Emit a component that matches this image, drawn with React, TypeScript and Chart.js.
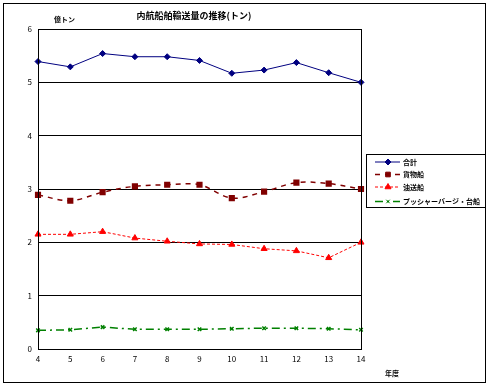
import React, { useEffect, useRef } from "react";
import { Chart, registerables } from "chart.js";
import { drawPoint } from "chart.js/helpers";

Chart.register(...registerables);

const categories = ["4", "5", "6", "7", "8", "9", "10", "11", "12", "13", "14"];
const totalValues = [5.39, 5.29, 5.54, 5.48, 5.48, 5.41, 5.17, 5.23, 5.37, 5.18, 5.0];
const cargoValues = [2.89, 2.78, 2.94, 3.05, 3.08, 3.08, 2.83, 2.95, 3.12, 3.1, 3.0];
const tankerValues = [2.15, 2.15, 2.2, 2.08, 2.02, 1.97, 1.96, 1.88, 1.84, 1.71, 2.0];
const pusherValues = [0.35, 0.36, 0.41, 0.37, 0.37, 0.37, 0.38, 0.39, 0.39, 0.38, 0.36];
const seriesNames = ["合計", "貨物船", "油送船", "プッシャーバージ・台船"];
const yTicks = [0, 1, 2, 3, 4, 5, 6];
const titleText = "内航船舶輸送量の推移(トン)";
const unitText = "億トン";
const xTitleText = "年度";

const FONT = "'Noto Sans CJK JP', 'DejaVu Sans', sans-serif";

const decorPlugin = {
  id: "decor",
  afterDraw(chart: any) {
    const ctx = chart.ctx;
    const ca = chart.chartArea;
    ctx.save();
    ctx.strokeStyle = "#000";
    ctx.lineWidth = 1;
    ctx.setLineDash([]);
    ctx.strokeRect(3.5, 3.5, 482, 379);
    ctx.strokeRect(Math.round(ca.left) + 0.5, Math.round(ca.top) + 0.5, Math.round(ca.right - ca.left), Math.round(ca.bottom - ca.top));
    ctx.fillStyle = "#000";
    ctx.textBaseline = "middle";
    ctx.font = `bold 9px ${FONT}`;
    ctx.textAlign = "center";
    ctx.fillText(titleText, 194, 16);
    ctx.font = `bold 7px ${FONT}`;
    ctx.textAlign = "left";
    ctx.fillText(unitText, 54, 19);
    ctx.fillText(xTitleText, 385, 373);
    const lx = 366, ly = 154, lw = 119, lh = 53;
    ctx.strokeRect(lx + 0.5, ly + 0.5, lw, lh);
    const rows = [162, 174.5, 187, 201.5];
    chart.data.datasets.forEach((ds: any, i: number) => {
      const y = rows[i];
      ctx.save();
      ctx.strokeStyle = ds.borderColor;
      ctx.lineWidth = ds.borderWidth;
      ctx.setLineDash(ds.borderDash || []);
      ctx.beginPath();
      ctx.moveTo(375, y);
      ctx.lineTo(400, y);
      ctx.stroke();
      ctx.setLineDash([]);
      ctx.fillStyle = ds.pointBackgroundColor;
      ctx.strokeStyle = ds.pointBorderColor;
      ctx.lineWidth = 1;
      drawPoint(ctx, { pointStyle: ds.pointStyle, radius: ds.pointRadius, rotation: ds.pointRotation || 0, borderWidth: 1 }, 388, y);
      ctx.restore();
      ctx.fillStyle = "#000";
      ctx.font = `bold 7px ${FONT}`;
      ctx.textAlign = "left";
      ctx.textBaseline = "middle";
      const w = ctx.measureText(seriesNames[i]).width;
      const maxW = 80;
      if (w > maxW) {
        ctx.save();
        ctx.translate(403, y);
        ctx.scale(maxW / w, 1);
        ctx.fillText(seriesNames[i], 0, 0);
        ctx.restore();
      } else {
        ctx.fillText(seriesNames[i], 403, y);
      }
    });
    ctx.restore();
  },
};

export default function App() {
  const ref = useRef<HTMLCanvasElement>(null);
  useEffect(() => {
    document.body.style.margin = "0";
    const chart = new Chart(ref.current!, {
      type: "line",
      data: {
        labels: categories,
        datasets: [
          {
            label: seriesNames[0],
            data: totalValues,
            borderColor: "#000080",
            backgroundColor: "#000080",
            pointBackgroundColor: "#000080",
            pointBorderColor: "#000080",
            pointStyle: "rectRot",
            pointRadius: 3,
            borderWidth: 1,
            tension: 0,
          } as any,
          {
            label: seriesNames[1],
            data: cargoValues,
            borderColor: "#800000",
            backgroundColor: "#800000",
            pointBackgroundColor: "#800000",
            pointBorderColor: "#800000",
            pointStyle: "rect",
            pointRadius: 3.3,
            borderWidth: 1.5,
            borderDash: [5, 5],
            tension: 0.35,
          },
          {
            label: seriesNames[2],
            data: tankerValues,
            borderColor: "#FF0000",
            backgroundColor: "#FF0000",
            pointBackgroundColor: "#FF0000",
            pointBorderColor: "#FF0000",
            pointStyle: "triangle",
            pointRadius: 3.5,
            borderWidth: 1,
            borderDash: [3, 2],
            tension: 0,
          },
          {
            label: seriesNames[3],
            data: pusherValues,
            borderColor: "#008000",
            backgroundColor: "#008000",
            pointBackgroundColor: "#008000",
            pointBorderColor: "#008000",
            pointStyle: "crossRot",
            pointRadius: 2.5,
            borderWidth: 1.5,
            borderDash: [8, 4, 2, 4],
            tension: 0,
          },
        ],
      },
      options: {
        animation: false,
        responsive: false,
        maintainAspectRatio: false,
        layout: { padding: { left: 0, top: 29, right: 129, bottom: 0 } },
        plugins: { legend: { display: false }, title: { display: false }, tooltip: { enabled: false } },
        scales: {
          x: {
            offset: false,
            grid: { display: false, drawTicks: false },
            border: { display: true, color: "#000", width: 1 },
            ticks: { color: "#000", font: { size: 8, family: FONT }, padding: 5, maxRotation: 0, autoSkip: false },
            afterFit(scale: any) { scale.height = 38; },
          },
          y: {
            min: 0,
            max: 6,
            afterBuildTicks(scale: any) { scale.ticks = yTicks.map((v) => ({ value: v })); },
            grid: { color: "#000", lineWidth: 1, drawTicks: false },
            border: { display: true, color: "#000", width: 1 },
            ticks: { color: "#000", font: { size: 8, family: FONT }, padding: 6 },
            afterFit(scale: any) { scale.width = 38; },
          },
        },
      },
      plugins: [decorPlugin],
    });
    return () => chart.destroy();
  }, []);
  return <canvas ref={ref} width={490} height={387} style={{ display: "block" }} />;
}
